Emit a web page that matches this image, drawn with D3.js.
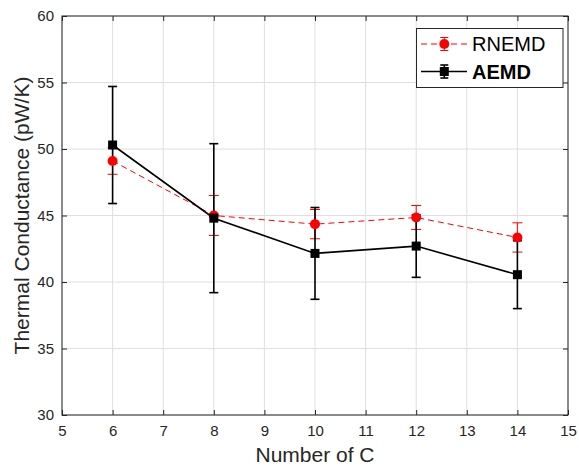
<!DOCTYPE html>
<html>
<head>
<meta charset="utf-8">
<script src="https://cdn.jsdelivr.net/npm/d3@7"></script>
<style>
  html, body { margin: 0; padding: 0; background: #fff; }
  svg { display: block; font-family: "Liberation Sans", Arial, Helvetica, sans-serif; }
</style>
</head>
<body>
<svg id="chart" width="579" height="467"></svg>
<script>
const nC = [6, 8, 10, 12, 14];
const rnemd = [49.1, 45.0, 44.35, 44.85, 43.35];
const rnemdErr = [1.0, 1.5, 1.1, 0.9, 1.1];
const aemd = [50.3, 44.8, 42.15, 42.7, 40.55];
const aemdErr = [4.4, 5.6, 3.45, 2.35, 2.55];
const xTicks = [5, 6, 7, 8, 9, 10, 11, 12, 13, 14, 15];
const yTicks = [30, 35, 40, 45, 50, 55, 60];
const seriesNames = ["RNEMD", "AEMD"];

const svg = d3.select("#chart");
const L = 62, R = 568, T = 16, B = 415;
const axisColor = "#262626";
const gridColor = "#dfdfdf";

const x = d3.scaleLinear().domain([5, 15]).range([L, R]);
const y = d3.scaleLinear().domain([30, 60]).range([B, T]);

// background
svg.append("rect").attr("x", L).attr("y", T).attr("width", R - L).attr("height", B - T).attr("fill", "#fff");

// grid
const grid = svg.append("g");
grid.selectAll("line.gx").data(xTicks).join("line")
  .attr("x1", d => x(d)).attr("x2", d => x(d)).attr("y1", T).attr("y2", B)
  .attr("stroke", gridColor).attr("stroke-width", 1);
grid.selectAll("line.gy").data(yTicks).join("line")
  .attr("y1", d => y(d)).attr("y2", d => y(d)).attr("x1", L).attr("x2", R)
  .attr("stroke", gridColor).attr("stroke-width", 1);

// axes with inward ticks
const tickLen = 5;
const xAxisB = d3.axisBottom(x).tickValues(xTicks).tickSize(-tickLen).tickPadding(10).tickFormat(d3.format("d"));
const xAxisT = d3.axisTop(x).tickValues(xTicks).tickSize(-tickLen).tickFormat("");
const yAxisL = d3.axisLeft(y).tickValues(yTicks).tickSize(-tickLen).tickPadding(8).tickFormat(d3.format("d"));
const yAxisR = d3.axisRight(y).tickValues(yTicks).tickSize(-tickLen).tickFormat("");

function styleAxis(g) {
  g.select(".domain").remove();
  g.selectAll(".tick line").attr("stroke", axisColor).attr("stroke-width", 1);
  g.selectAll(".tick text").attr("fill", axisColor).style("font-size", "15px")
    .style("font-family", '"Liberation Sans", Arial, sans-serif');
}
svg.append("g").attr("transform", `translate(0,${B})`).call(xAxisB).call(styleAxis);
svg.append("g").attr("transform", `translate(0,${T})`).call(xAxisT).call(styleAxis);
svg.append("g").attr("transform", `translate(${L},0)`).call(yAxisL).call(styleAxis);
svg.append("g").attr("transform", `translate(${R},0)`).call(yAxisR).call(styleAxis);

// box
svg.append("rect").attr("x", L).attr("y", T).attr("width", R - L).attr("height", B - T)
  .attr("fill", "none").attr("stroke", axisColor).attr("stroke-width", 1);

// data
const red = nC.map((c, i) => ({ x: c, v: rnemd[i], e: rnemdErr[i] }));
const blk = nC.map((c, i) => ({ x: c, v: aemd[i], e: aemdErr[i] }));
const line = d3.line().x(d => x(d.x)).y(d => y(d.v));

function errorBars(g, data, color, width, cap) {
  const eb = g.append("g");
  eb.selectAll("line.v").data(data).join("line")
    .attr("x1", d => x(d.x)).attr("x2", d => x(d.x))
    .attr("y1", d => y(d.v - d.e)).attr("y2", d => y(d.v + d.e))
    .attr("stroke", color).attr("stroke-width", width);
  eb.selectAll("line.t").data(data).join("line")
    .attr("x1", d => x(d.x) - cap).attr("x2", d => x(d.x) + cap)
    .attr("y1", d => y(d.v + d.e)).attr("y2", d => y(d.v + d.e))
    .attr("stroke", color).attr("stroke-width", width);
  eb.selectAll("line.b").data(data).join("line")
    .attr("x1", d => x(d.x) - cap).attr("x2", d => x(d.x) + cap)
    .attr("y1", d => y(d.v - d.e)).attr("y2", d => y(d.v - d.e))
    .attr("stroke", color).attr("stroke-width", width);
}

const plot = svg.append("g");
// red series lines and bars
plot.append("path").datum(red).attr("d", line).attr("fill", "none")
  .attr("stroke", "#ff0000").attr("stroke-width", 1).attr("stroke-dasharray", "6,4");
errorBars(plot, red, "#ff0000", 1, 5);
// black series lines and bars
plot.append("path").datum(blk).attr("d", line).attr("fill", "none")
  .attr("stroke", "#000").attr("stroke-width", 1.6);
errorBars(plot, blk, "#000", 1.6, 4.5);
// markers
plot.selectAll("circle.m").data(red).join("circle")
  .attr("cx", d => x(d.x)).attr("cy", d => y(d.v)).attr("r", 5).attr("fill", "#ff0000");
const sq = 9;
plot.selectAll("rect.m").data(blk).join("rect")
  .attr("x", d => x(d.x) - sq / 2).attr("y", d => y(d.v) - sq / 2)
  .attr("width", sq).attr("height", sq).attr("fill", "#000");

// axis labels
svg.append("text").attr("x", (L + R) / 2).attr("y", 462).attr("text-anchor", "middle")
  .attr("fill", axisColor).style("font-size", "21px").text("Number of C");
svg.append("text").attr("transform", `translate(29,${(T + B) / 2}) rotate(-90)`)
  .attr("text-anchor", "middle").attr("fill", axisColor).style("font-size", "21px")
  .text("Thermal Conductance (pW/K)");

// legend
const lg = svg.append("g");
lg.append("rect").attr("x", 416.5).attr("y", 28.5).attr("width", 146.5).attr("height", 59)
  .attr("fill", "#fff").attr("stroke", axisColor).attr("stroke-width", 1);
const rows = [
  { name: seriesNames[0], y: 44, color: "#ff0000", dash: "6,4", lw: 1, bold: false, marker: "circle" },
  { name: seriesNames[1], y: 71.5, color: "#000", dash: null, lw: 1.6, bold: true, marker: "square" }
];
rows.forEach(r => {
  lg.append("line").attr("x1", 421).attr("x2", 467).attr("y1", r.y).attr("y2", r.y)
    .attr("stroke", r.color).attr("stroke-width", r.lw).attr("stroke-dasharray", r.dash);
  lg.append("line").attr("x1", 444.3).attr("x2", 444.3).attr("y1", r.y - 6.5).attr("y2", r.y + 6.5)
    .attr("stroke", r.color).attr("stroke-width", r.lw);
  [r.y - 6.5, r.y + 6.5].forEach(yy => lg.append("line").attr("x1", 440.3).attr("x2", 448.3)
    .attr("y1", yy).attr("y2", yy).attr("stroke", r.color).attr("stroke-width", r.lw));
  if (r.marker === "circle") {
    lg.append("circle").attr("cx", 444.3).attr("cy", r.y).attr("r", 5).attr("fill", r.color);
  } else {
    lg.append("rect").attr("x", 444.3 - sq / 2).attr("y", r.y - sq / 2).attr("width", sq).attr("height", sq).attr("fill", r.color);
  }
  lg.append("text").attr("x", 472).attr("y", r.y + 7).attr("fill", "#000")
    .style("font-size", "20px").style("font-weight", r.bold ? "bold" : "normal").text(r.name);
});
</script>
</body>
</html>
